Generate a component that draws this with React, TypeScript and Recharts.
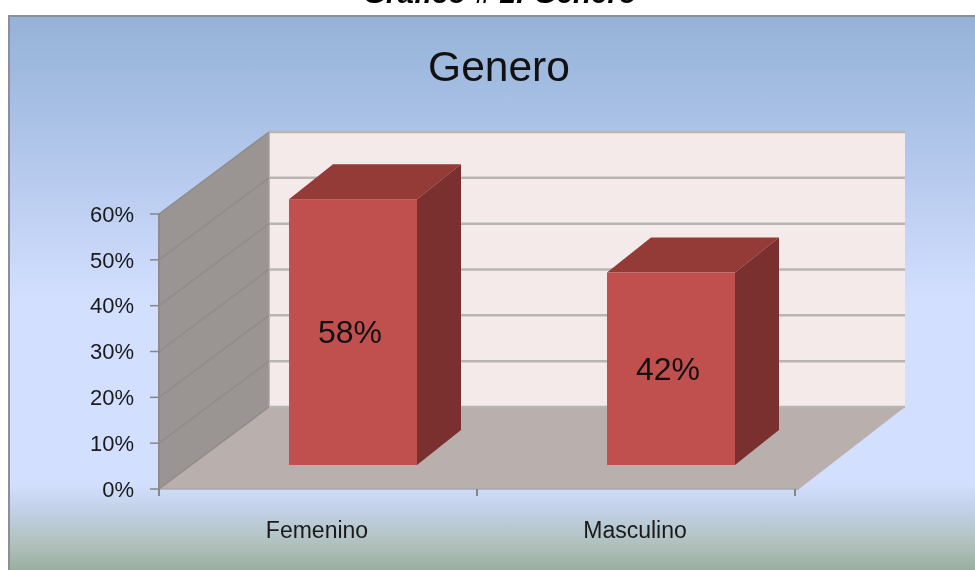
import React from "react";
import {
  BarChart,
  Bar,
  XAxis,
  YAxis,
  CartesianGrid,
  ReferenceArea,
  LabelList,
} from "recharts";

const categories = ["Femenino", "Masculino"];
const percentages = [58, 42];
const percentTicks = [0, 10, 20, 30, 40, 50, 60];

const data = categories.map((name, i) => ({ name, value: percentages[i] }));

const FONT = '"Liberation Sans", Arial, sans-serif';
const WALL_DX = 110;
const WALL_DY = 82;
const BAR_DX = 35;
const BAR_DY = 24;
const BAR_DEPTH_X = 44;
const BAR_DEPTH_Y = 35;
const PLOT_WIDTH = 636;
const BAND = PLOT_WIDTH / categories.length;

const pts = (list: number[][]) => list.map((p) => p.join(",")).join(" ");

// back wall, side wall and floor, sized from the value axis
function Walls({ x, y, width, height }: any) {
  const bottom = y + height;
  const right = x + width;
  return (
    <g>
      <polygon
        points={pts([
          [x + WALL_DX, y - WALL_DY],
          [right + WALL_DX, y - WALL_DY],
          [right + WALL_DX, bottom - WALL_DY],
          [x + WALL_DX, bottom - WALL_DY],
        ])}
        fill="#f5eaea"
      />
      <polygon
        points={pts([
          [x, y],
          [x + WALL_DX, y - WALL_DY],
          [x + WALL_DX, bottom - WALL_DY],
          [x, bottom],
        ])}
        fill="#9a9492"
      />
      <polygon
        points={pts([
          [x, bottom],
          [x + WALL_DX, bottom - WALL_DY],
          [right + WALL_DX, bottom - WALL_DY],
          [right + 4, bottom],
        ])}
        fill="#b9b0ae"
      />
      <line x1={x} y1={bottom} x2={right + 4} y2={bottom} stroke="#a9a9ad" strokeWidth={1.5} />
      <line x1={x} y1={y} x2={x} y2={bottom + 3} stroke="#8c8c8c" strokeWidth={2} />
      <line x1={x + WALL_DX} y1={y - WALL_DY} x2={x + WALL_DX} y2={bottom - WALL_DY} stroke="#a5a09e" strokeWidth={1.5} />
    </g>
  );
}

function GridLine({ x1, y1, x2 }: any) {
  const backY = y1 - WALL_DY;
  return (
    <g>
      <line x1={x1} y1={y1} x2={x1 + WALL_DX} y2={backY} stroke="#918c8a" strokeWidth={1.5} />
      <line x1={x1 + WALL_DX} y1={backY} x2={x2 + WALL_DX} y2={backY} stroke="#b9b4b2" strokeWidth={2.5} />
    </g>
  );
}

function Box({ x, y, width, height }: any) {
  const left = x + BAR_DX;
  const right = left + width;
  const top = y - BAR_DY;
  const bottom = top + height;
  return (
    <g>
      <polygon
        points={pts([
          [left, top],
          [left + BAR_DEPTH_X, top - BAR_DEPTH_Y],
          [right + BAR_DEPTH_X, top - BAR_DEPTH_Y],
          [right, top],
        ])}
        fill="#943a37"
      />
      <polygon
        points={pts([
          [right, top],
          [right + BAR_DEPTH_X, top - BAR_DEPTH_Y],
          [right + BAR_DEPTH_X, bottom - BAR_DEPTH_Y],
          [right, bottom],
        ])}
        fill="#7a302e"
      />
      <rect x={left} y={top} width={width} height={height} fill="#c0504d" />
    </g>
  );
}

function BoxLabel({ x, y, width, height, value }: any) {
  return (
    <text
      x={x + BAR_DX + width / 2 - 3}
      y={y - BAR_DY + height / 2}
      textAnchor="middle"
      dominantBaseline="central"
      fontFamily={FONT}
      fontSize={32}
      fill="#111"
    >
      {value}%
    </text>
  );
}

function CategoryTick({ x, y, payload, index }: any) {
  const left = x - BAND / 2;
  const right = x + BAND / 2;
  const axisY = y - 8;
  return (
    <g>
      <line x1={left} y1={axisY} x2={left} y2={axisY + 7} stroke="#868686" strokeWidth={2} />
      {index === categories.length - 1 && (
        <line x1={right} y1={axisY} x2={right} y2={axisY + 7} stroke="#868686" strokeWidth={2} />
      )}
      <text x={x - 1} y={axisY + 41} textAnchor="middle" dominantBaseline="central" fontFamily={FONT} fontSize={23} fill="#1a1a1a">
        {payload.value}
      </text>
    </g>
  );
}

export default function App() {
  return (
    <div style={{ position: "absolute", left: 0, top: 0, width: 975, height: 570, overflow: "hidden", background: "#fff", filter: "blur(0.4px)" }}>
      <div
        style={{
          position: "absolute",
          left: 500,
          top: -27,
          transform: "translateX(-50%)",
          whiteSpace: "nowrap",
          fontFamily: FONT,
          fontSize: 29.5,
          lineHeight: "40px",
          fontWeight: "bold",
          fontStyle: "italic",
          color: "#000",
        }}
      >
        Gráfico # 1: Genero
      </div>
      <div
        style={{
          position: "absolute",
          left: 8,
          top: 15,
          width: 967,
          height: 555,
          boxSizing: "border-box",
          borderLeft: "2px solid #8a8f98",
          borderTop: "2px solid #8a8f98",
          background:
            "linear-gradient(180deg, #95b3d7 0px, #a7bfe4 90px, #d3dfff 285px, #d3dfff 465px, #c4d3ea 490px, #aebfba 530px, #98ae9b 555px)",
        }}
      />
      <div
        style={{
          position: "absolute",
          left: 0,
          top: 42,
          width: 998,
          textAlign: "center",
          fontFamily: FONT,
          fontSize: 42.5,
          lineHeight: "50px",
          color: "#111",
        }}
      >
        Genero
      </div>
      <div style={{ position: "absolute", left: 0, top: 0 }}>
        <BarChart
          width={975}
          height={570}
          data={data}
          margin={{ top: 214, right: 180, bottom: 41, left: 0 }}
          barSize={128}
        >
          <ReferenceArea y1={0} y2={60} shape={<Walls />} ifOverflow="visible" zIndex={-200} />
          <CartesianGrid vertical={false} horizontal={(props: any) => <GridLine key={props.key} {...props} />} />
          <XAxis
            dataKey="name"
            height={40}
            interval={0}
            axisLine={false}
            tickLine={false}
            tick={<CategoryTick />}
          />
          <YAxis
            width={159}
            domain={[0, 60]}
            ticks={percentTicks}
            tickFormatter={(v: number) => `${v}%`}
            axisLine={false}
            tickSize={9}
            tickMargin={16}
            tickLine={{ stroke: "#868686", strokeWidth: 1.5 }}
            tick={{ fontFamily: FONT, fontSize: 22, fill: "#1a1a1a" }}
          />
          <Bar dataKey="value" shape={<Box />} isAnimationActive={false}>
            <LabelList dataKey="value" content={<BoxLabel />} />
          </Bar>
        </BarChart>
      </div>
    </div>
  );
}
